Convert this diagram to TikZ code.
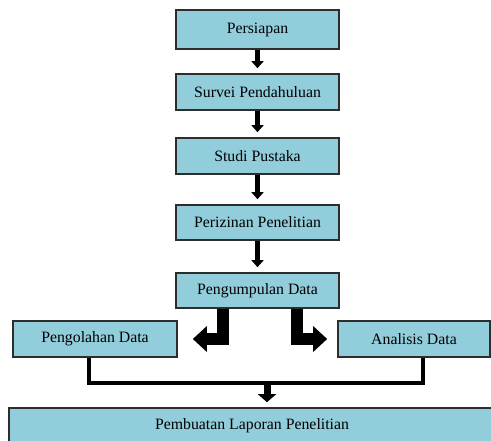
\documentclass[tikz,border=0pt]{standalone}
\usepackage{fontspec}
\setmainfont{Liberation Serif}
\usetikzlibrary{arrows.meta,positioning}
\definecolor{boxblue}{RGB}{146,205,220}
\definecolor{boxline}{RGB}{45,45,45}

\begin{document}
\begin{tikzpicture}[x=1pt, y=-1pt,
  tahap/.style={rectangle, draw=boxline, line width=1.6pt, fill=boxblue,
               minimum width=163pt, minimum height=36pt, inner sep=0pt,
               font=\fontsize{15.8}{18}\selectfont},
  panah/.style={-{Triangle[width=12pt,length=7pt]}, line width=5pt, black, shorten >=5pt},
  belok/.style={-{Triangle[width=25pt,length=14pt]}, line width=12.5pt, black, line join=miter},
  garis/.style={line width=3.5pt, black, line join=miter}
]
\useasboundingbox (0,0) rectangle (491,441);
\clip (0,0) rectangle (491,441);

% Column: main steps
\node[tahap, minimum height=39pt] (siap)    at (257.5,29.5)  {Persiapan};
\node[tahap]                      (survei)  at (257.5,92)    {Survei Pendahuluan};
\node[tahap]                      (pustaka) at (257.5,156)   {Studi Pustaka};
\node[tahap, minimum height=35pt] (izin)    at (257.5,222.5) {Perizinan Penelitian};
\node[tahap, minimum height=35pt] (kumpul)  at (257.5,290.5) {Pengumpulan Data};

% Row: processing and analysis
\node[tahap, minimum width=164pt] (olah)     at (95,339)  {Pengolahan Data};
\node[tahap, minimum width=152pt] (analisis) at (414,339) {Analisis Data};

% Final report
\node[tahap, minimum width=486pt] (laporan) at (252,426) {Pembuatan Laporan Penelitian};

\draw[panah] (siap) -- (survei);
\draw[panah] (survei) -- (pustaka);
\draw[panah] (pustaka) -- (izin);
\draw[panah] (izin) -- (kumpul);

\draw[belok] ([xshift=-34.5pt]kumpul.south) |- ([xshift=15pt]olah.east);
\draw[belok] ([xshift=39.5pt]kumpul.south) |- ([xshift=-10pt]analisis.west);

% Join to the report
\coordinate (temu) at (267,383);
\draw[garis] ([xshift=-6pt]olah.south) |- (temu) -| ([xshift=9pt]analisis.south);
\draw[-{Triangle[width=18pt,length=8pt]}, line width=7pt, shorten >=5pt] (temu) -- (temu |- laporan.north);
\end{tikzpicture}
\end{document}
